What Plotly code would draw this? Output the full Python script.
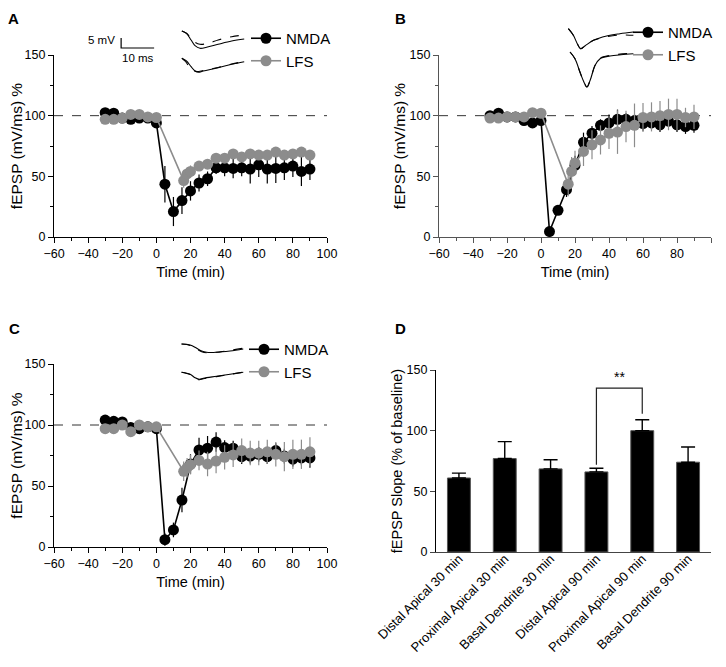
import plotly.graph_objects as go

# ---------------- data ----------------
time_nmda = [-30, -25, -20, -15, -10, -5, 0, 5, 10, 15, 20, 25, 30, 35, 40, 45, 50, 55, 60, 65, 70, 75, 80, 85, 90]
time_lfs = [-30, -25, -20, -15, -10, -5, 0, 16, 18, 20, 25, 30, 35, 40, 45, 50, 55, 60, 65, 70, 75, 80, 85, 90]

a_nmda = [102.5, 102, 98, 97, 98, 98, 94, 43.5, 21, 30, 38, 44.5, 48, 57, 57, 56.5, 57, 56, 59.5, 56, 56.5, 57, 58.5, 54, 56]
a_nmda_err = [2, 2, 2, 2, 2, 2, 2, 15, 12, 11, 8, 7, 6, 5, 7, 8, 7, 12, 10, 12, 12, 10, 9, 12, 9]
a_lfs = [97, 97, 98, 101, 101, 99, 98.5, 46.5, 52, 54, 58.5, 60, 65, 65, 68.5, 66, 68.5, 67.5, 67.5, 70, 67.5, 68.5, 70, 67.5]
a_lfs_err = [2, 2, 2, 2, 2, 2, 2, 6, 5, 5, 4, 4, 4, 4, 4, 4, 4, 4, 4, 4, 4, 4, 4, 4]

b_nmda = [100, 102, 99, 99, 96, 94, 96, 4.5, 22, 39, 59, 78, 85.5, 92, 94, 97, 97, 96, 93.5, 94, 92.5, 95.5, 92.5, 91, 92]
b_nmda_err = [2, 2, 2, 2, 2, 2, 2, 3, 3, 6, 8, 8, 6, 5, 7, 8, 5, 5, 6, 5, 6, 5, 6, 6, 6]
b_lfs = [98, 98, 99, 99, 99, 102.5, 102, 43.5, 54, 61, 70.5, 76, 80, 85.5, 86.5, 91, 92, 98.5, 99, 100, 101, 101, 98.5, 99]
b_lfs_err = [2, 2, 2, 2, 2, 2, 2, 10, 12, 10, 12, 12, 12, 13, 18, 13, 18, 12, 12, 12, 13, 13, 8, 10]

c_nmda = [104, 103, 102.5, 98, 97, 98.5, 97, 6, 14, 38.5, 68, 79.5, 81, 86, 81.5, 81, 74, 74.5, 76, 74, 79, 74.5, 72, 73, 73]
c_nmda_err = [2, 2, 2, 2, 2, 2, 2, 5, 6, 10, 8, 10, 10, 8, 6, 6, 6, 6, 6, 6, 6, 6, 6, 6, 8]
c_lfs = [97, 97, 100, 94.5, 100, 98.5, 98.5, 62, 65, 67.5, 71, 68, 70.5, 73.5, 75.5, 79, 77, 77, 78, 76, 74, 76, 76, 78]
c_lfs_err = [2, 2, 2, 2, 2, 2, 2, 8, 8, 8, 8, 10, 10, 10, 10, 10, 10, 10, 10, 10, 12, 12, 12, 12]

baseline_pct = 100

d_categories = ["Distal Apical 30 min", "Proximal Apical 30 min", "Basal Dendrite 30 min",
                "Distal Apical 90 min", "Proximal Apical 90 min", "Basal Dendrite 90 min"]
d_values = [61, 77, 68.5, 66, 100, 74]
d_err = [4, 14, 7.5, 3, 9, 12.5]
sig_pair = ["Distal Apical 90 min", "Proximal Apical 90 min"]
sig_levels = [72, 135, 135, 114]
sig_label = "**"

# example traces (time in ms, voltage in mV)
a_top_t = [24.8, 26.2, 27.6, 28.8, 30.3, 32.3, 35.8, 39.9, 43.7]
a_top_solid = [24.5, 23.35, 20, 17.15, 15.85, 16.35, 17.85, 19.5, 20.5]
a_top_dash_t = [24.8, 26.2, 27.6, 28.8, 30.3, 32.8, 35.8, 39.9, 43.7]
a_top_dash = [24.5, 23.35, 20.85, 18.85, 17.85, 18.35, 20, 21.65, 22.5]
a_bot_t = [24.8, 26.2, 27.6, 28.8, 29.8, 31.3, 35.8, 39.9, 43.7]
a_bot_solid = [10.85, 9.5, 6.65, 4.5, 3.85, 4.5, 6.15, 7.85, 9.15]
a_bot_dash_t = [24.8, 25.9, 27.1, 28.3, 29.4, 31.3, 35.8, 39.9, 43.7]
a_bot_dash = [10.85, 9.25, 6.5, 4.75, 4.25, 4.75, 6.25, 8, 9.25]

b_top_t = [8.6, 10.1, 11.3, 12.3, 13.6, 16.2, 20.2, 24.2, 28.3]
b_top_solid = [34.15, 30.85, 26.65, 24.15, 25.5, 28.35, 30.5, 31.65, 32.5]
b_top_dash = [34.15, 30.85, 26.65, 24.15, 25.5, 28.35, 30.1, 31.0, 30.85]
b_bot_t = [9.1, 10.6, 12.1, 13.3, 14.2, 15.2, 16.7, 18.2, 21.2, 28.3]
b_bot_solid = [22.5, 19.15, 12.5, 7.5, 5, 8.35, 15.85, 19.15, 20.5, 21.65]
b_bot_dash = [22.5, 19.15, 12.5, 7.5, 5, 8.35, 15.85, 19.4, 20.8, 21.9]

c_top_t = [3.5, 6.1, 8.1, 9.6, 11.1, 14.1, 18.2, 22.2]
c_top_solid = [23, 22.5, 20.85, 19.5, 18.85, 18.85, 19.5, 20.5]
c_top_dash = [23, 22.3, 20.4, 19.1, 18.6, 18.9, 19.8, 20.9]
c_bot_t = [3.5, 6.1, 7.6, 8.9, 10.1, 14.1, 18.2, 22.2]
c_bot_solid = [8.85, 7.85, 6.15, 5.35, 5.85, 6.85, 7.85, 8.85]
c_bot_dash = [8.85, 7.7, 5.9, 5.1, 5.6, 6.7, 7.8, 8.9]

scale_mv = 5
scale_ms = 10
scale_origin_t = 6.4
scale_origin_v = 16

# ---------------- styling ----------------
OFF = 8                      # page body margin
W, H = 726 - 2 * OFF, 667 - 2 * OFF
BLACK = "#000000"
GRAY = "#8c8c8c"
FONT = "Liberation Sans, Arial, Helvetica, sans-serif"


def px_x(p):
    return (p - OFF) / W


def px_y(p):
    return 1 - (p - OFF) / H


fig = go.Figure()


def add_time_panel(xa, ya, legend, nmda, nmda_err, lfs, lfs_err):
    fig.add_trace(go.Scatter(
        x=[-60, 100], y=[baseline_pct, baseline_pct], mode="lines",
        line=dict(color="#333333", width=1, dash="dash"),
        xaxis=xa, yaxis=ya, showlegend=False, hoverinfo="skip"))
    fig.add_trace(go.Scatter(
        x=time_nmda, y=nmda, mode="lines+markers", name="NMDA",
        line=dict(color=BLACK, width=1.6),
        marker=dict(color=BLACK, size=11),
        error_y=dict(type="data", array=nmda_err, color=BLACK, thickness=1.2, width=0),
        xaxis=xa, yaxis=ya, legend=legend, legendgroup=legend + "n"))
    fig.add_trace(go.Scatter(
        x=time_lfs, y=lfs, mode="lines+markers", name="LFS",
        line=dict(color=GRAY, width=1.6),
        marker=dict(color=GRAY, size=11),
        error_y=dict(type="data", array=lfs_err, color=GRAY, thickness=1.2, width=0),
        xaxis=xa, yaxis=ya, legend=legend, legendgroup=legend + "l"))


add_time_panel("x", "y", "legend", a_nmda, a_nmda_err, a_lfs, a_lfs_err)
add_time_panel("x2", "y2", "legend2", b_nmda, b_nmda_err, b_lfs, b_lfs_err)
add_time_panel("x3", "y3", "legend3", c_nmda, c_nmda_err, c_lfs, c_lfs_err)

# panel D bars
fig.add_trace(go.Bar(
    x=d_categories, y=d_values, width=0.5,
    marker=dict(color=BLACK, line=dict(color="#555555", width=1)),
    error_y=dict(type="data", symmetric=False, array=d_err, arrayminus=[0] * len(d_err),
                 color=BLACK, thickness=1.4, width=7),
    xaxis="x4", yaxis="y4", showlegend=False))
fig.add_trace(go.Scatter(
    x=[sig_pair[0], sig_pair[0], sig_pair[1], sig_pair[1]], y=sig_levels, mode="lines",
    line=dict(color="#222222", width=1.2), xaxis="x4", yaxis="y4", showlegend=False))


def add_inset_line(xa, ya, t, v, dash):
    fig.add_trace(go.Scatter(
        x=t, y=v, mode="lines", line=dict(color=BLACK, width=1.1, dash=dash, shape="spline"),
        xaxis=xa, yaxis=ya, showlegend=False, hoverinfo="skip"))


add_inset_line("x5", "y5", a_top_t, a_top_solid, "solid")
add_inset_line("x5", "y5", a_top_dash_t, a_top_dash, "dash")
add_inset_line("x5", "y5", a_bot_t, a_bot_solid, "solid")
add_inset_line("x5", "y5", a_bot_dash_t, a_bot_dash, "dash")
# scale bar
fig.add_trace(go.Scatter(
    x=[scale_origin_t, scale_origin_t, scale_origin_t + scale_ms],
    y=[scale_origin_v + scale_mv, scale_origin_v, scale_origin_v], mode="lines",
    line=dict(color=BLACK, width=1.2), xaxis="x5", yaxis="y5", showlegend=False))

add_inset_line("x6", "y6", b_top_t, b_top_solid, "solid")
add_inset_line("x6", "y6", b_top_t, b_top_dash, "dash")
add_inset_line("x6", "y6", b_bot_t, b_bot_solid, "solid")
add_inset_line("x6", "y6", b_bot_t, b_bot_dash, "dash")

add_inset_line("x7", "y7", c_top_t, c_top_solid, "solid")
add_inset_line("x7", "y7", c_top_t, c_top_dash, "dash")
add_inset_line("x7", "y7", c_bot_t, c_bot_solid, "solid")
add_inset_line("x7", "y7", c_bot_t, c_bot_dash, "dash")

tickfont = dict(family=FONT, size=12.5, color=BLACK)


def time_xaxis(dom, anchor, color):
    return dict(domain=dom, anchor=anchor, range=[-60, 100], tickvals=[-60, -40, -20, 0, 20, 40, 60, 80, 100],
                showline=True, linecolor=color, linewidth=1.2, ticks="outside", ticklen=5, tickwidth=1.2,
                tickcolor=color, showgrid=False, zeroline=False, tickfont=tickfont, automargin=False,
                minor=dict(dtick=10, ticks="outside", ticklen=3, tickcolor=color, tickwidth=1.2, showgrid=False),
                title=dict(text="Time (min)", font=dict(family=FONT, size=14.5, color=BLACK), standoff=6))


def time_yaxis(dom, anchor, color):
    return dict(domain=dom, anchor=anchor, range=[0, 150], tickvals=[0, 50, 100, 150],
                showline=True, linecolor=color, linewidth=1.2, ticks="outside", ticklen=5, tickwidth=1.2,
                tickcolor=color, showgrid=False, zeroline=False, tickfont=tickfont, automargin=False,
                minor=dict(dtick=25, ticks="outside", ticklen=3, tickcolor=color, tickwidth=1.2, showgrid=False),
                title=dict(text="fEPSP (mV/ms) %", font=dict(family=FONT, size=15.5, color=BLACK), standoff=0))


def hidden_axis(dom, anchor, rng):
    return dict(domain=dom, anchor=anchor, range=rng, visible=False, fixedrange=True, automargin=False)


legend_common = dict(font=dict(family=FONT, size=15, color=BLACK), bgcolor="rgba(0,0,0,0)",
                     itemwidth=30, tracegroupgap=0, xanchor="left", yanchor="top")

fig.update_layout(
    width=W, height=H, margin=dict(l=0, r=0, t=0, b=0, autoexpand=False),
    paper_bgcolor="white", plot_bgcolor="white",
    font=dict(family=FONT, color=BLACK),
    xaxis=time_xaxis([px_x(54), px_x(327)], "y", BLACK),
    yaxis=time_yaxis([px_y(237), px_y(55)], "x", BLACK),
    xaxis2=time_xaxis([px_x(439), px_x(711)], "y2", "#555555"),
    yaxis2=time_yaxis([px_y(237), px_y(55)], "x2", "#555555"),
    xaxis3=time_xaxis([px_x(54), px_x(327)], "y3", BLACK),
    yaxis3=time_yaxis([px_y(547), px_y(364)], "x3", BLACK),
    xaxis4=dict(domain=[px_x(436), px_x(711)], anchor="y4", range=[-0.5, 5.5], type="category",
                showline=True, linecolor="#444444", linewidth=1.2, ticks="", tickangle=-45, automargin=False,
                ticklabelstandoff=-7,
                tickfont=dict(family=FONT, size=13, color=BLACK), showgrid=False),
    yaxis4=dict(domain=[px_y(552), px_y(370)], anchor="x4", range=[0, 150], tickvals=[0, 50, 100, 150],
                showline=True, linecolor=BLACK, linewidth=1.2, ticks="outside", ticklen=5, tickwidth=1.2,
                showgrid=False, zeroline=False, tickfont=tickfont, automargin=False,
                title=dict(text="fEPSP Slope (% of baseline)", font=dict(family=FONT, size=14.5, color=BLACK),
                           standoff=0)),
    xaxis5=hidden_axis([px_x(100), px_x(250)], "y5", [0, 150 / 3.3]),
    yaxis5=hidden_axis([px_y(80), px_y(25)], "x5", [0, 27.5]),
    xaxis6=hidden_axis([px_x(540), px_x(640)], "y6", [0, 100 / 3.3]),
    yaxis6=hidden_axis([px_y(97), px_y(22)], "x6", [0, 37.5]),
    xaxis7=hidden_axis([px_x(170), px_x(250)], "y7", [0, 80 / 3.3]),
    yaxis7=hidden_axis([px_y(390), px_y(335)], "x7", [0, 27.5]),
    legend=dict(x=px_x(246), y=px_y(22), **legend_common),
    legend2=dict(x=px_x(628), y=px_y(16), **legend_common),
    legend3=dict(x=px_x(244), y=px_y(333), **legend_common),
    bargap=0.5,
)

annotations = [
    dict(text="<b>A</b>", x=px_x(6), y=1, xref="paper", yref="paper", xanchor="left", yanchor="top",
         showarrow=False, font=dict(family=FONT, size=15, color=BLACK)),
    dict(text="<b>B</b>", x=px_x(393), y=1, xref="paper", yref="paper", xanchor="left", yanchor="top",
         showarrow=False, font=dict(family=FONT, size=15, color=BLACK)),
    dict(text="<b>C</b>", x=px_x(7), y=px_y(318), xref="paper", yref="paper", xanchor="left", yanchor="top",
         showarrow=False, font=dict(family=FONT, size=15, color=BLACK)),
    dict(text="<b>D</b>", x=px_x(393), y=px_y(318), xref="paper", yref="paper", xanchor="left", yanchor="top",
         showarrow=False, font=dict(family=FONT, size=15, color=BLACK)),
    dict(text=sig_label, x=3.5, y=sig_levels[1] + 1, xref="x4", yref="y4", yanchor="bottom",
         showarrow=False, font=dict(family=FONT, size=14, color=BLACK)),
    dict(text="%d mV" % scale_mv, x=scale_origin_t - 1.2, y=scale_origin_v + scale_mv / 2 + 1.5,
         xref="x5", yref="y5", xanchor="right", yanchor="middle", showarrow=False,
         font=dict(family=FONT, size=11.5, color=BLACK)),
    dict(text="%d ms" % scale_ms, x=scale_origin_t + scale_ms / 2, y=scale_origin_v - 1,
         xref="x5", yref="y5", xanchor="center", yanchor="top", showarrow=False,
         font=dict(family=FONT, size=11.5, color=BLACK)),
]
fig.update_layout(annotations=annotations)

fig.write_html("out.html")
